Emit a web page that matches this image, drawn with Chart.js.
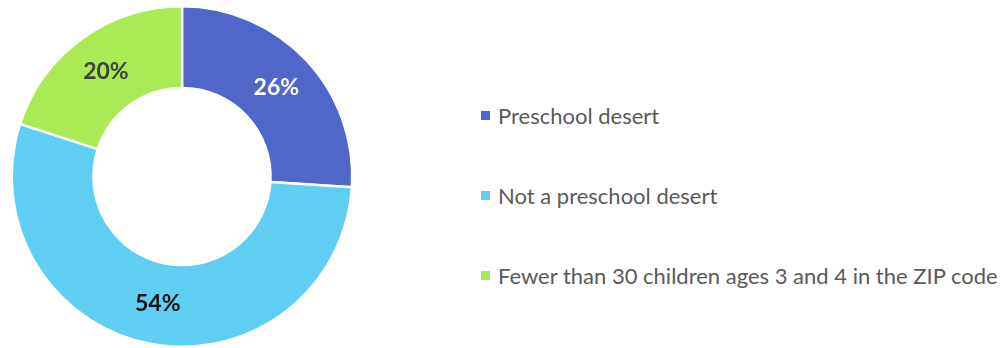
<!DOCTYPE html>
<html>
<head>
<meta charset="utf-8">
<script src="https://cdn.jsdelivr.net/npm/chart.js@4/dist/chart.umd.min.js"></script>
<style>
  html, body { margin: 0; padding: 0; background: #fff; }
  #wrap { position: relative; width: 1008px; height: 348px; }
  #pie { position: absolute; left: 0; top: 0; width: 364px; height: 348px; }
  #legend { position: absolute; left: 481px; top: 0; font-family: Lato, "Open Sans", sans-serif; font-size: 22px; color: #595959; }
  #legend .item { position: absolute; left: 0; white-space: nowrap; display: flex; align-items: center; }
  #legend .box { width: 9px; height: 9px; margin-right: 8px; flex: none; }
</style>
</head>
<body>
<div id="wrap">
  <div id="pie"><canvas id="donut"></canvas></div>
  <div id="legend"></div>
</div>
<script>
const categories = ["Preschool desert", "Not a preschool desert", "Fewer than 30 children ages 3 and 4 in the ZIP code"];
const shares = [26, 54, 20];
const sliceColors = ["#4f67c8", "#60cdf3", "#a9ea55"];
const labelColors = ["#ffffff", "#111111", "#404040"];

// percentage text in the middle of each ring segment
const sliceLabels = {
  id: "sliceLabels",
  afterDatasetsDraw(chart) {
    const ctx = chart.ctx;
    const meta = chart.getDatasetMeta(0);
    ctx.save();
    ctx.font = "bold 23px Lato, 'Open Sans', sans-serif";
    ctx.textAlign = "center";
    ctx.textBaseline = "middle";
    meta.data.forEach((arc, i) => {
      const p = arc.getCenterPoint();
      ctx.fillStyle = labelColors[i];
      ctx.fillText(shares[i] + "%", p.x, p.y);
    });
    ctx.restore();
  }
};

new Chart(document.getElementById("donut"), {
  type: "doughnut",
  data: {
    labels: categories,
    datasets: [{
      data: shares,
      backgroundColor: sliceColors,
      borderColor: "#ffffff",
      borderWidth: 2.5
    }]
  },
  options: {
    responsive: true,
    maintainAspectRatio: false,
    animation: false,
    cutout: "52%",
    layout: { padding: { top: 5, bottom: 0, left: 0, right: 0 } },
    plugins: {
      legend: { display: false },
      tooltip: { enabled: false }
    }
  },
  plugins: [sliceLabels]
});

// legend on the right, one row every 80px
const legend = document.getElementById("legend");
categories.forEach((name, i) => {
  const row = document.createElement("div");
  row.className = "item";
  row.style.top = (102 + i * 80) + "px";
  const box = document.createElement("span");
  box.className = "box";
  box.style.background = sliceColors[i];
  const txt = document.createElement("span");
  txt.textContent = name;
  row.appendChild(box);
  row.appendChild(txt);
  legend.appendChild(row);
});
</script>
</body>
</html>
